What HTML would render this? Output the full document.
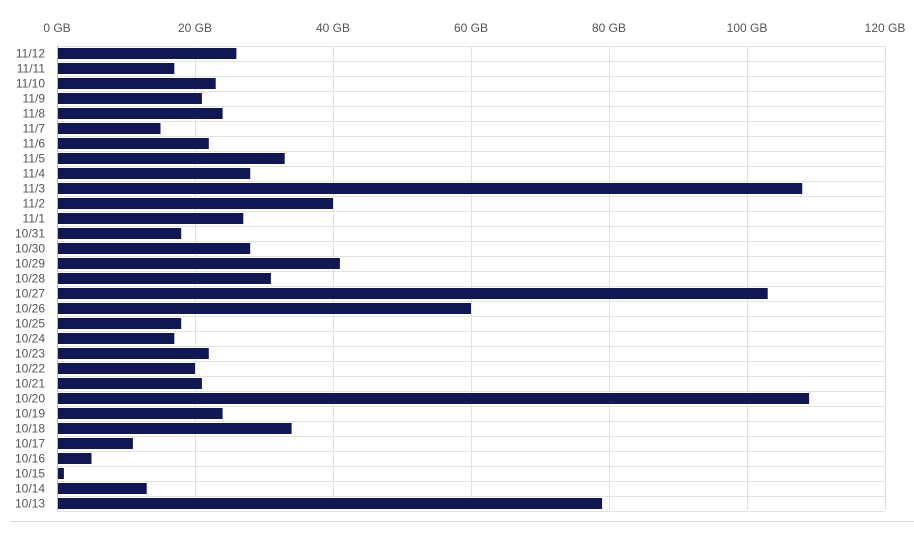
<!DOCTYPE html>
<html><head><style>
body{margin:0;background:#fff;}
svg text{font-family:"Liberation Sans",sans-serif;font-size:12px;fill:#555;}
</style></head><body>
<svg width="914" height="531" xmlns="http://www.w3.org/2000/svg">
<g id="grid" stroke="#e3e3e3" stroke-width="1"></g>
<g id="bars" fill="#111753"></g>
<g id="lbl"></g>
<line x1="57.5" y1="46" x2="57.5" y2="510" stroke="#bbb"/>
<line x1="10" y1="521.5" x2="914" y2="521.5" stroke="#cfd8dc"/>
<text x="57" y="32" text-anchor="middle">0 GB</text>
<text x="195" y="32" text-anchor="middle">20 GB</text>
<text x="333" y="32" text-anchor="middle">40 GB</text>
<text x="471" y="32" text-anchor="middle">60 GB</text>
<text x="609" y="32" text-anchor="middle">80 GB</text>
<text x="747" y="32" text-anchor="middle">100 GB</text>
<text x="885" y="32" text-anchor="middle">120 GB</text>
</svg>
<script>
var labels=["11/12","11/11","11/10","11/9","11/8","11/7","11/6","11/5","11/4","11/3","11/2","11/1","10/31","10/30","10/29","10/28","10/27","10/26","10/25","10/24","10/23","10/22","10/21","10/20","10/19","10/18","10/17","10/16","10/15","10/14","10/13"];
var vals=[26,17,23,21,24,15,22,33,28,108,40,27,18,28,41,31,103,60,18,17,22,20,21,109,24,34,11,5,1,13,79];
var ns="http://www.w3.org/2000/svg";
var g=document.getElementById("grid"),b=document.getElementById("bars"),l=document.getElementById("lbl");
function el(t,a,p){var e=document.createElementNS(ns,t);for(var k in a)e.setAttribute(k,a[k]);p.appendChild(e);return e;}
for(var i=0;i<=6;i++){var x=57.5+i*138;if(i>0)el("line",{x1:x,y1:46,x2:x,y2:510},g);}
for(var i=0;i<=31;i++){var y=46.5+i*15;el("line",{x1:57,y1:y,x2:885,y2:y},g);}
for(var i=0;i<31;i++){var y=46+i*15;
el("rect",{x:57,y:y+2,width:vals[i]*6.9,height:11},b);
var t=el("text",{x:45,y:y+11.5,"text-anchor":"end"},l);t.textContent=labels[i];}
</script>
</body></html>
